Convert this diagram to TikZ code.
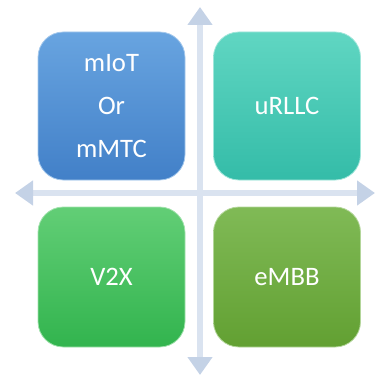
\documentclass[tikz,border=0pt]{standalone}
\usepackage{fontspec}
\setmainfont{Carlito}
\usetikzlibrary{arrows.meta}

\definecolor{axisline}{RGB}{218,227,240}
\definecolor{axistip}{RGB}{196,210,230}
\definecolor{blueTop}{RGB}{104,164,224}
\definecolor{blueBot}{RGB}{66,128,200}
\definecolor{tealTop}{RGB}{96,214,194}
\definecolor{tealBot}{RGB}{52,188,168}
\definecolor{greenTop}{RGB}{98,206,118}
\definecolor{greenBot}{RGB}{50,180,78}
\definecolor{oliveTop}{RGB}{128,186,86}
\definecolor{oliveBot}{RGB}{98,160,50}

\tikzset{
  quadbox/.style={rectangle, rounded corners=19pt, minimum width=110.25pt,
    text=white, font=\fontsize{20}{32}\selectfont, align=center, inner sep=0pt},
  axis/.style={draw=axisline, line width=4.5pt,
    {Triangle[length=13.5pt,width=18pt,color=axistip]}-{Triangle[length=13.5pt,width=18pt,color=axistip]}}
}

\begin{document}
\begin{tikzpicture}[x=0.75pt,y=0.75pt,yscale=-1,xscale=1]
\useasboundingbox (0,0) rectangle (377,378);

% axis end points
\coordinate (up) at (200,7);
\coordinate (down) at (200,375);
\coordinate (left) at (15,193);
\coordinate (right) at (375,193);

\draw [axis] (down) -- (up);
\draw [axis] (left) -- (right);

% the four quadrants
\node [quadbox, minimum height=111pt, top color=blueTop, bottom color=blueBot,
  draw=blueTop!60!white, line width=0.6pt] (miot) at (111.5,106) {mIoT\\Or\\mMTC};
\node [quadbox, minimum height=111pt, top color=tealTop, bottom color=tealBot,
  draw=tealTop!60!white, line width=0.6pt] (urllc) at (287,106) {uRLLC};
\node [quadbox, minimum height=105pt, top color=greenTop, bottom color=greenBot,
  draw=greenTop!60!white, line width=0.6pt] (v2x) at (111.5,277) {V2X};
\node [quadbox, minimum height=105pt, top color=oliveTop, bottom color=oliveBot,
  draw=oliveTop!60!white, line width=0.6pt] (embb) at (287,277) {eMBB};

\end{tikzpicture}
\end{document}
